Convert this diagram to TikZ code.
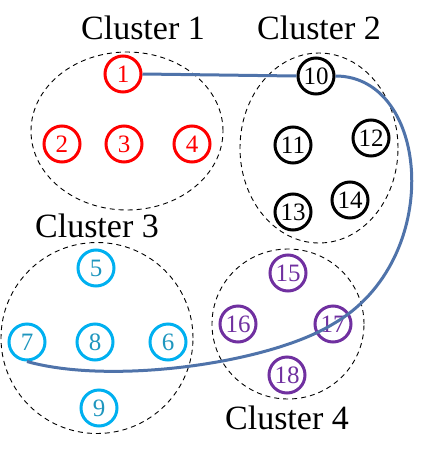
\documentclass[tikz,border=0pt]{standalone}
\usepackage{fontspec}
\setmainfont{Liberation Serif}
\usepackage{tikz}
\usetikzlibrary{shapes.geometric}
\definecolor{cred}{RGB}{255,0,0}
\definecolor{ccyan}{RGB}{0,176,240}
\definecolor{ccyantext}{RGB}{30,150,190}
\definecolor{cpurple}{RGB}{112,48,160}
\definecolor{clink}{RGB}{79,115,170}

\begin{document}
\begin{tikzpicture}[x=1pt, y=-1pt,
    cluster/.style={ellipse, draw, dashed, dash pattern=on 5pt off 4pt, line width=0.9pt, inner sep=0pt},
    point/.style={circle, draw, line width=3pt, minimum size=36pt, inner sep=0pt, font=\fontsize{25}{25}\selectfont},
    label/.style={font=\fontsize{34}{34}\selectfont},
    link/.style={line width=3pt, draw=clink}]
\useasboundingbox (0,0) rectangle (434,456);

% Clusters
\node [cluster, minimum width=192pt, minimum height=158pt] (cl1) at (127,131) {};
\node [cluster, minimum width=158pt, minimum height=190pt] (cl2) at (319,148) {};
\node [cluster, minimum width=192pt, minimum height=191pt] (cl3) at (97,338) {};
\node [cluster, minimum width=152pt, minimum height=150pt] (cl4) at (288,324) {};

% Cluster names
\node [label] (t1) at (143,28) {Cluster 1};
\node [label] (t2) at (319,28) {Cluster 2};
\node [label] (t3) at (97,226) {Cluster 3};
\node [label] (t4) at (287,418) {Cluster 4};

% Cluster 1
\node [point, draw=cred, text=cred] (n1) at (123,74) {1};
\node [point, draw=cred, text=cred] (n2) at (62,144) {2};
\node [point, draw=cred, text=cred] (n3) at (124,144) {3};
\node [point, draw=cred, text=cred] (n4) at (192,144) {4};

% Cluster 2
\node [point] (n10) at (316,76) {10};
\node [point] (n11) at (293,145) {11};
\node [point] (n12) at (371,138) {12};
\node [point] (n13) at (293,212) {13};
\node [point] (n14) at (350,200) {14};

% Cluster 3
\node [point, draw=ccyan, text=ccyantext] (n5) at (96,268) {5};
\node [point, draw=ccyan, text=ccyantext] (n7) at (27,342) {7};
\node [point, draw=ccyan, text=ccyantext] (n8) at (95,342) {8};
\node [point, draw=ccyan, text=ccyantext] (n6) at (168,342) {6};
\node [point, draw=ccyan, text=ccyantext] (n9) at (99,408) {9};

% Cluster 4
\node [point, draw=cpurple, text=cpurple] (n15) at (288,273) {15};
\node [point, draw=cpurple, text=cpurple] (n16) at (238,324) {16};
\node [point, draw=cpurple, text=cpurple] (n17) at (333,324) {17};
\node [point, draw=cpurple, text=cpurple] (n18) at (287,375) {18};

% Path through the clusters
\draw [link] (n1.east) -- (n10.west);
\draw [link] (n10.east) .. controls (430,76) and (445,260) .. (n17.center)
    .. controls (268,364) and (110,385) .. (n7.south);

\end{tikzpicture}
\end{document}
